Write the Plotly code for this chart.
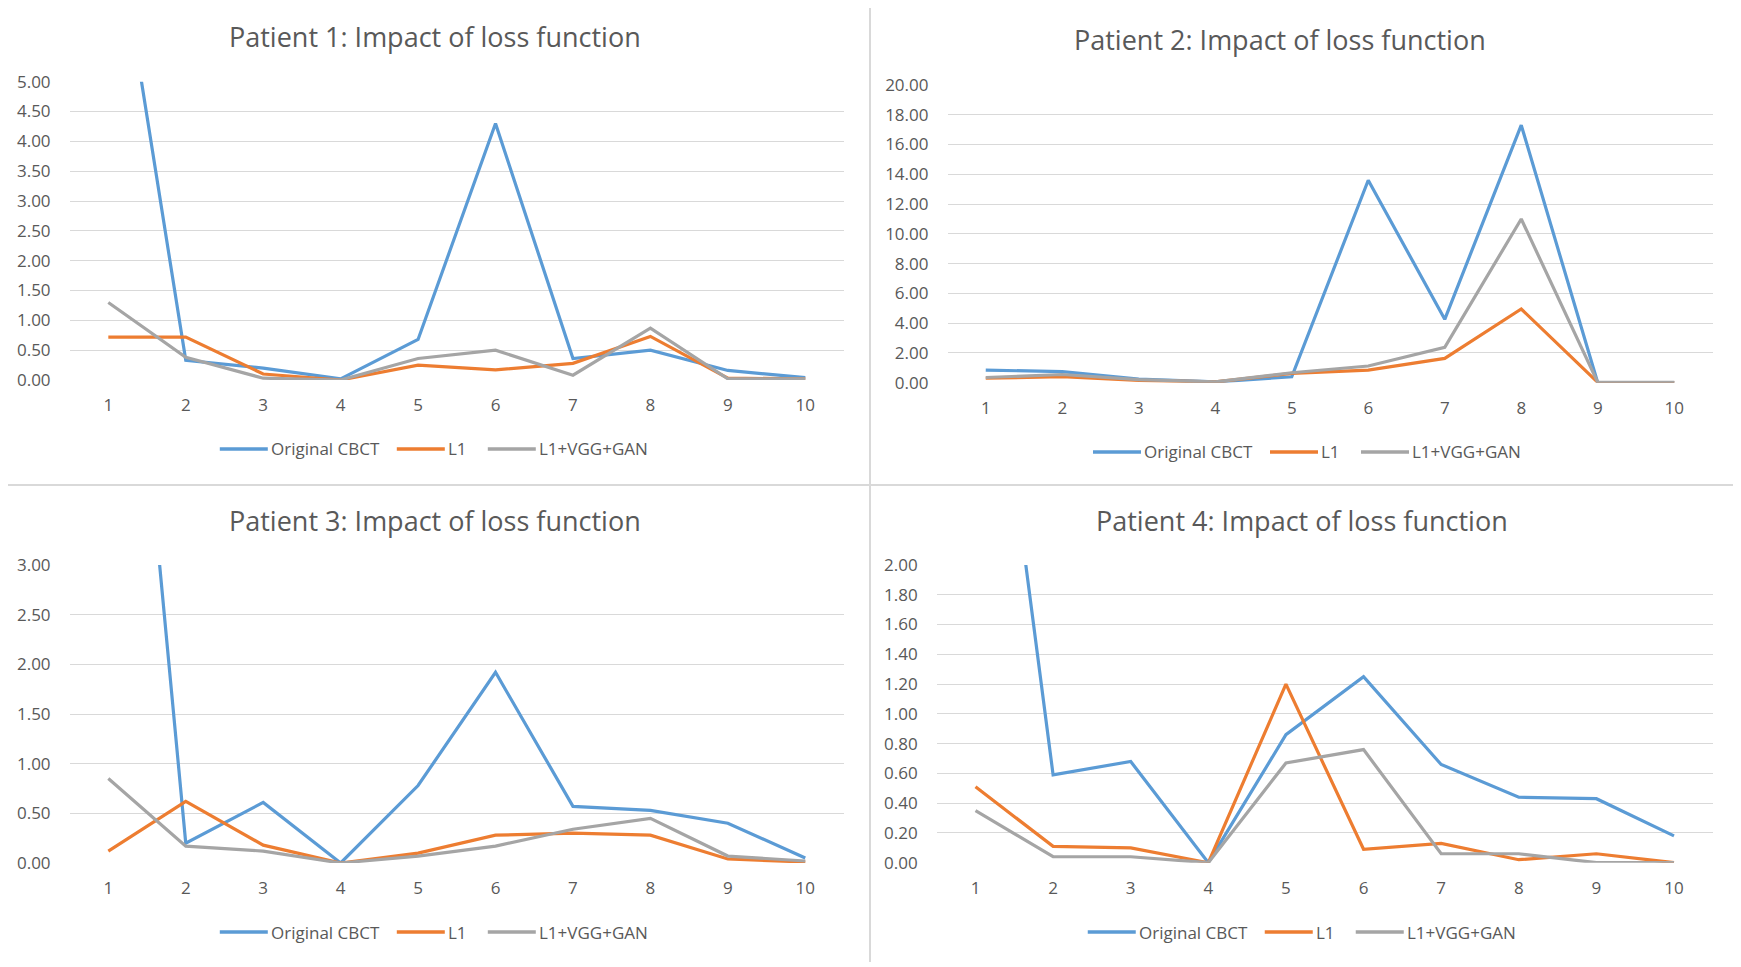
import plotly.graph_objects as go

W, H = 1741, 967
OFF = 8  # page body margin compensation (px)

slices = list(range(1, 11))
tick_labels = [str(i) for i in slices]
series_names = ["Original CBCT", "L1", "L1+VGG+GAN"]

p1_original = [8.5, 0.33, 0.20, 0.02, 0.68, 4.30, 0.36, 0.50, 0.16, 0.04]
p1_l1 = [0.72, 0.72, 0.10, 0.00, 0.25, 0.17, 0.28, 0.73, 0.03, 0.02]
p1_vgg = [1.30, 0.38, 0.03, 0.00, 0.36, 0.50, 0.08, 0.87, 0.02, 0.02]

p2_original = [0.85, 0.74, 0.25, 0.05, 0.40, 13.6, 4.26, 17.3, 0.00, 0.00]
p2_l1 = [0.30, 0.40, 0.15, 0.05, 0.63, 0.85, 1.63, 4.95, 0.02, 0.01]
p2_vgg = [0.35, 0.55, 0.20, 0.05, 0.67, 1.12, 2.37, 11.0, 0.02, 0.02]

p3_original = [8.5, 0.20, 0.61, 0.00, 0.78, 1.92, 0.57, 0.53, 0.40, 0.05]
p3_l1 = [0.12, 0.62, 0.18, 0.00, 0.10, 0.28, 0.30, 0.28, 0.04, 0.01]
p3_vgg = [0.85, 0.17, 0.12, 0.00, 0.07, 0.17, 0.34, 0.45, 0.07, 0.02]

p4_original = [4.6, 0.59, 0.68, 0.00, 0.86, 1.25, 0.66, 0.44, 0.43, 0.18]
p4_l1 = [0.51, 0.11, 0.10, 0.00, 1.20, 0.09, 0.13, 0.02, 0.06, 0.00]
p4_vgg = [0.35, 0.04, 0.04, 0.00, 0.67, 0.76, 0.06, 0.06, 0.00, 0.00]

titles = ["Patient 1: Impact of loss function", "Patient 2: Impact of loss function",
          "Patient 3: Impact of loss function", "Patient 4: Impact of loss function"]
y_max = [5.0, 20.0, 3.0, 2.0]
y_step = [0.5, 2.0, 0.5, 0.2]
colors = ["#5B9BD5", "#ED7D31", "#A5A5A5"]

panels = [
    (p1_original, p1_l1, p1_vgg),
    (p2_original, p2_l1, p2_vgg),
    (p3_original, p3_l1, p3_vgg),
    (p4_original, p4_l1, p4_vgg),
]

# pixel boxes (x0, x1, ytop, ybottom) in reference coordinates
boxes = [
    (69.6, 844.0, 81.7, 380.0),
    (947.5, 1712.5, 85.0, 382.7),
    (69.6, 844.0, 565.0, 863.0),
    (936.7, 1712.8, 565.0, 862.7),
]
title_pos = [(435, 36), (1280, 39), (435, 520), (1302, 520)]
legend_y = [449, 452, 932, 932]
legend_item_start = [-237, -60, 31]   # px offsets from panel centre
legend_line_len = 48


def px(x):
    return (x - OFF) / W


def py(y):
    return 1 - (y - OFF) / H


FONT = "Open Sans"
TXT = "#595959"
fig = go.Figure()
layout = dict(width=W, height=H, margin=dict(l=0, r=0, t=0, b=0, autoexpand=False),
              paper_bgcolor="white", plot_bgcolor="white", annotations=[], shapes=[],
              showlegend=False)

for i, (vals, box) in enumerate(zip(panels, boxes)):
    n = i + 1
    xa = "x" if n == 1 else f"x{n}"
    ya = "y" if n == 1 else f"y{n}"
    for name, v, c in zip(series_names, vals, colors):
        fig.add_trace(go.Scatter(x=slices, y=v, mode="lines", name=name,
                                 line=dict(color=c, width=3.2), xaxis=xa, yaxis=ya,
                                 hoverinfo="skip"))
    x0, x1, yt, yb = box
    xkey = "xaxis" if n == 1 else f"xaxis{n}"
    ykey = "yaxis" if n == 1 else f"yaxis{n}"
    layout[xkey] = dict(domain=[px(x0), px(x1)], range=[0.5, 10.5], anchor=ya,
                        tickvals=slices, ticktext=tick_labels, showgrid=False,
                        zeroline=False, showline=False, ticks="", ticklabelstandoff=13,
                        tickfont=dict(family=FONT, size=17, color=TXT), fixedrange=True)
    layout[ykey] = dict(domain=[py(yb), py(yt)], range=[0, y_max[i]], anchor=xa,
                        dtick=y_step[i], tick0=0, tickformat=".2f", showgrid=True,
                        gridcolor="#D9D9D9", gridwidth=1.3, zeroline=False, showline=False,
                        ticks="", ticklabelstandoff=18,
                        tickfont=dict(family=FONT, size=17, color=TXT), fixedrange=True)
    # legend drawn as line shapes + text annotations
    cx = (x0 + x1) / 2
    ly = legend_y[i]
    for name, c, start in zip(series_names, colors, legend_item_start):
        ls = cx + start
        layout["shapes"].append(dict(type="line", xref="paper", yref="paper",
                                     x0=px(ls), x1=px(ls + legend_line_len),
                                     y0=py(ly), y1=py(ly),
                                     line=dict(color=c, width=3.6)))
        layout["annotations"].append(dict(text=name, x=px(ls + legend_line_len + 1), y=py(ly),
                                          xref="paper", yref="paper", xanchor="left",
                                          yanchor="middle", showarrow=False,
                                          font=dict(family=FONT, size=17, color=TXT)))
    tx, ty = title_pos[i]
    layout["annotations"].append(dict(text=titles[i], x=px(tx), y=py(ty), xref="paper",
                                      yref="paper", xanchor="center", yanchor="middle",
                                      showarrow=False,
                                      font=dict(family=FONT, size=27, color=TXT)))

# divider lines between the four charts
layout["shapes"].append(dict(type="line", xref="paper", yref="paper", x0=px(870), x1=px(870),
                             y0=py(962), y1=py(0), line=dict(color="#D9D9D9", width=2)))
layout["shapes"].append(dict(type="line", xref="paper", yref="paper", x0=px(0), x1=px(W + OFF),
                             y0=py(485), y1=py(485), line=dict(color="#D9D9D9", width=2)))

fig.update_layout(**layout)
fig.write_html("out.html")
